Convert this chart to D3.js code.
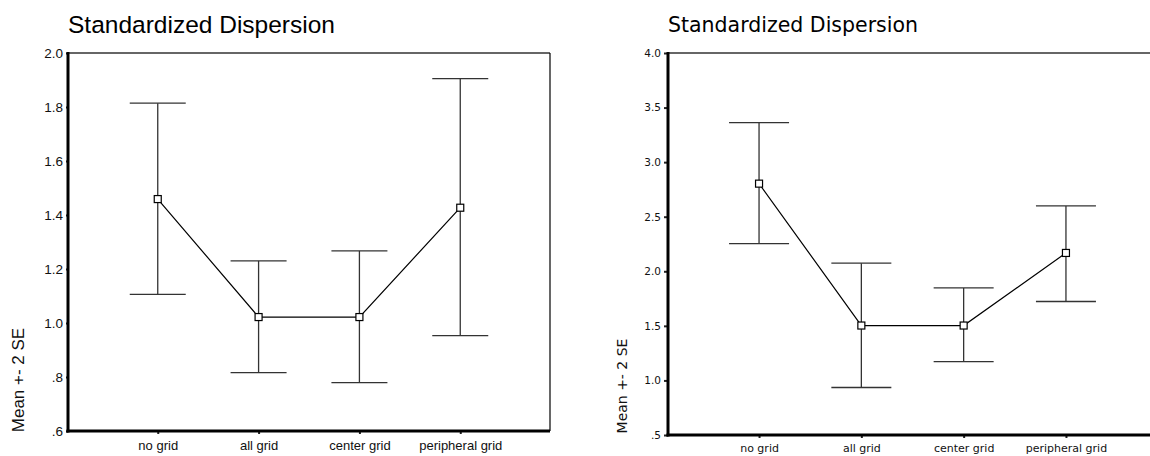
<!DOCTYPE html>
<html>
<head>
<meta charset="utf-8">
<script src="https://cdn.jsdelivr.net/npm/d3@7"></script>
<style>
  body { margin: 0; background: #fff; }
  svg { display: block; }
</style>
</head>
<body>
<div id="vis-container"></div>
<script>
// categories shared by both panels
categories = ["no grid", "all grid", "center grid", "peripheral grid"]

// left panel: mean and +- 2 SE bounds
leftMeans = [1.459, 1.022, 1.022, 1.427]
leftUpper = [1.814, 1.230, 1.267, 1.905]
leftLower = [1.106, 0.816, 0.779, 0.953]
leftTicks = [0.6, 0.8, 1.0, 1.2, 1.4, 1.6, 1.8, 2.0]

// right panel
rightMeans = [2.803, 1.503, 1.503, 2.168]
rightUpper = [3.362, 2.074, 1.848, 2.599]
rightLower = [2.254, 0.935, 1.173, 1.723]
rightTicks = [0.5, 1.0, 1.5, 2.0, 2.5, 3.0, 3.5, 4.0]

titleText = "Standardized Dispersion"
yLabelText = "Mean +- 2 SE"

function fmtTick(v){
  // SPSS style: drop the leading zero
  let s = v.toFixed(1)
  return s.startsWith("0") ? s.slice(1) : s
}

svg = d3.select("#vis-container").append("svg").attr("width", 1150).attr("height", 456)

function drawPanel(opt){
  let g = svg.append("g")
  let y = d3.scaleLinear().domain(opt.domain).range([opt.bottom, opt.top])
  let x = d3.scalePoint().domain(categories).range([opt.left, opt.right]).padding(opt.pad)
  let rows = categories.map((c, i) => ({cat: c, mean: opt.means[i], hi: opt.upper[i], lo: opt.lower[i]}))

  // title
  g.append("text").attr("x", opt.left).attr("y", opt.titleY)
    .style("font-family", opt.font).style("font-size", opt.titleSize + "px")
    .attr("fill", "#000").text(titleText)

  // frame: thin top + right, thick left + bottom
  g.append("line").attr("x1", opt.left).attr("x2", opt.right).attr("y1", opt.top).attr("y2", opt.top)
    .attr("stroke", "#333").attr("stroke-width", 1.5)
  g.append("line").attr("x1", opt.right).attr("x2", opt.right).attr("y1", opt.top).attr("y2", opt.bottom)
    .attr("stroke", "#000").attr("stroke-width", 1.2)

  // y axis
  let yAxis = d3.axisLeft(y).tickValues(opt.ticks).tickFormat(fmtTick).tickSize(opt.tickLen).tickPadding(3)
  let ya = g.append("g").attr("transform", "translate(" + opt.left + ",0)").call(yAxis)
  ya.select(".domain").remove()
  ya.selectAll("line").attr("stroke", "#222").attr("stroke-width", 2)
  ya.selectAll("text").style("font-family", opt.font).style("font-size", opt.tickSize + "px").attr("fill", "#111")

  // x axis
  let xAxis = d3.axisBottom(x).tickSize(3).tickPadding(opt.xPad)
  let xa = g.append("g").attr("transform", "translate(0," + opt.bottom + ")").call(xAxis)
  xa.select(".domain").remove()
  xa.selectAll("line").attr("stroke", "#222").attr("stroke-width", 2)
  xa.selectAll("text").style("font-family", opt.font).style("font-size", opt.xTickSize + "px").attr("fill", "#111")

  g.append("line").attr("x1", opt.left).attr("x2", opt.left).attr("y1", opt.top - 1).attr("y2", opt.bottom + 1.5)
    .attr("stroke", "#000").attr("stroke-width", 3)
  g.append("line").attr("x1", opt.left - 1.5).attr("x2", opt.right).attr("y1", opt.bottom).attr("y2", opt.bottom)
    .attr("stroke", "#000").attr("stroke-width", 3)

  // y label
  g.append("text")
    .attr("transform", "translate(" + opt.labelX + "," + opt.labelY + ") rotate(-90)")
    .attr("text-anchor", "middle")
    .style("font-family", opt.font).style("font-size", opt.labelSize + "px")
    .attr("fill", "#111").text(yLabelText)

  // error bars
  let bars = g.selectAll(".bar").data(rows).enter().append("g").attr("class", "bar")
  bars.append("line").attr("x1", d => x(d.cat)).attr("x2", d => x(d.cat))
    .attr("y1", d => y(d.hi)).attr("y2", d => y(d.lo)).attr("stroke", "#333").attr("stroke-width", 1.3)
  bars.append("line").attr("x1", d => x(d.cat) - opt.cap).attr("x2", d => x(d.cat) + opt.cap)
    .attr("y1", d => y(d.hi)).attr("y2", d => y(d.hi)).attr("stroke", "#333").attr("stroke-width", 1.3)
  bars.append("line").attr("x1", d => x(d.cat) - opt.cap).attr("x2", d => x(d.cat) + opt.cap)
    .attr("y1", d => y(d.lo)).attr("y2", d => y(d.lo)).attr("stroke", "#333").attr("stroke-width", 1.3)

  // mean line
  let line = d3.line().x(d => x(d.cat)).y(d => y(d.mean))
  g.append("path").datum(rows).attr("d", line).attr("fill", "none").attr("stroke", "#000").attr("stroke-width", 1.2)

  // square markers
  g.selectAll(".marker").data(rows).enter().append("rect").attr("class", "marker")
    .attr("x", d => x(d.cat) - 3.5).attr("y", d => y(d.mean) - 3.5)
    .attr("width", 7).attr("height", 7)
    .attr("fill", "#fff").attr("stroke", "#000").attr("stroke-width", 1.2)
}

drawPanel({
  domain: [0.6, 2.0], ticks: leftTicks, means: leftMeans, upper: leftUpper, lower: leftLower,
  left: 68, right: 550, top: 53, bottom: 431, pad: 0.89, cap: 28,
  font: "Liberation Sans, Arial, sans-serif", titleSize: 24.5, titleY: 33, tickSize: 13.5, xTickSize: 13, labelSize: 17,
  labelX: 24, labelY: 380, tickLen: 2, xPad: 7
})

drawPanel({
  domain: [0.5, 4.0], ticks: rightTicks, means: rightMeans, upper: rightUpper, lower: rightLower,
  left: 668, right: 1157, top: 53, bottom: 435, pad: 0.89, cap: 30,
  font: "DejaVu Sans, Verdana, sans-serif", titleSize: 20.5, titleY: 32, tickSize: 10.5, xTickSize: 11, labelSize: 14,
  labelX: 627, labelY: 386, tickLen: 4, xPad: 6
})
</script>
</body>
</html>
